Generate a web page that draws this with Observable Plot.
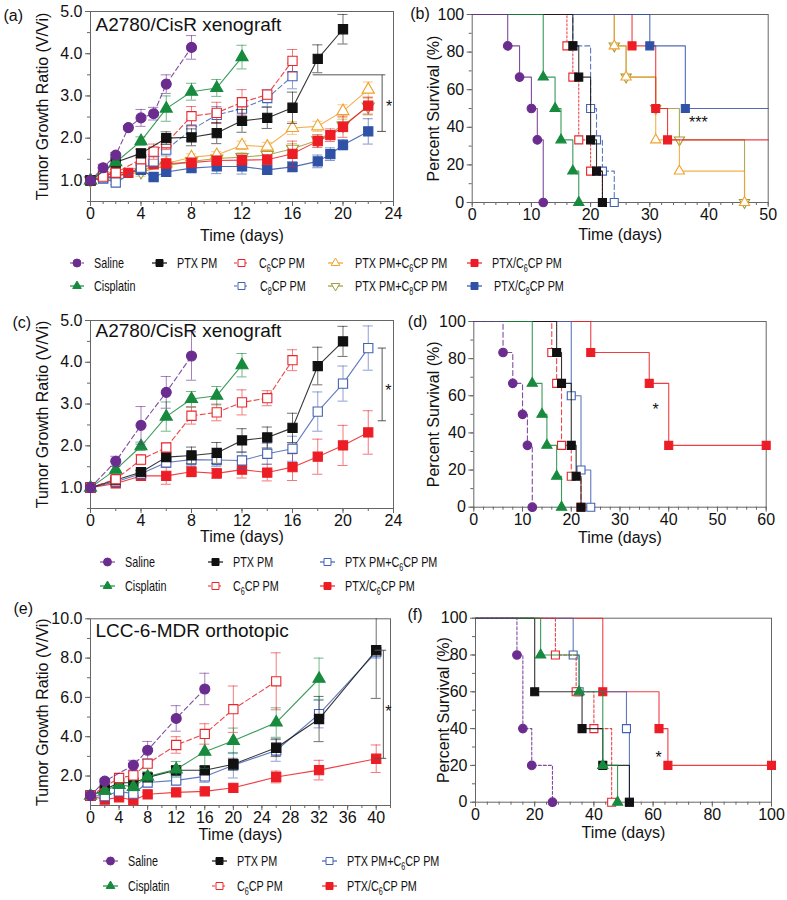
<!DOCTYPE html>
<html><head><meta charset="utf-8">
<script src="https://cdn.jsdelivr.net/npm/d3@7"></script>
<script src="https://cdn.jsdelivr.net/npm/@observablehq/plot@0.6"></script>
<style>
body{margin:0;background:#fff;}
#fig{position:relative;width:787px;height:900px;font-family:"Liberation Sans",Arial,sans-serif;overflow:hidden;}
.panel{position:absolute;}
.lt{position:absolute;font-size:15px;line-height:20px;height:20px;transform:scaleX(0.72);transform-origin:0 50%;white-space:nowrap;color:#111;}
.lt sub{font-size:10px;vertical-align:-4px;line-height:0;}
</style></head>
<body><div id="fig"></div>
<script>
// ================= DATA =================
// Tumor growth, panel (a): [day, V/Vi, error]
const aSaline = [[0,1.00,0],[1,1.30,0.08],[2,1.60,0.06],[3,2.25,0.05],[4,2.48,0.20],[5,2.58,0.15],[6,3.28,0.22],[8,4.15,0.28]];
const aCis    = [[0,1.00,0],[2,1.43,0.08],[4,1.93,0.10],[6,2.70,0.30],[8,3.10,0.20],[10,3.19,0.20],[12,3.92,0.28]];
const aPTX    = [[0,1.00,0],[2,1.43,0.05],[4,1.64,0.10],[6,2.00,0.15],[8,2.02,0.20],[10,2.12,0.25],[12,2.41,0.27],[14,2.48,0.25],[16,2.72,0.37],[18,3.88,0.33],[20,4.58,0.35]];
const aC6     = [[0,1.00,0],[1,1.09,0.05],[2,1.18,0.08],[4,1.50,0.10],[5,1.68,0.18],[6,1.88,0.15],[8,2.52,0.23],[10,2.60,0.25],[12,2.85,0.30],[14,3.03,0.10],[16,3.83,0.27]];
const aC8     = [[0,1.00,0],[1,1.05,0.05],[2,0.95,0.05],[4,1.30,0.10],[5,1.45,0.12],[6,1.73,0.15],[8,2.20,0.25],[10,2.55,0.20],[12,2.70,0.25],[14,2.95,0.20],[16,3.47,0.30]];
const aPC6    = [[0,1.00,0],[2,1.12,0.05],[4,1.25,0.10],[6,1.40,0.10],[8,1.55,0.08],[10,1.60,0.08],[12,1.83,0.10],[14,1.80,0.10],[16,2.24,0.15],[18,2.28,0.12],[20,2.64,0.15],[22,3.15,0.18]];
const aPC8    = [[0,1.00,0],[2,1.10,0.05],[4,1.20,0.10],[6,1.35,0.10],[8,1.45,0.08],[10,1.52,0.08],[12,1.55,0.10],[14,1.60,0.10],[16,1.75,0.12],[18,1.95,0.12],[20,2.30,0.15],[22,2.75,0.20]];
const aPTXC6  = [[0,1.00,0],[1,1.10,0.05],[2,1.20,0.06],[3,1.18,0.05],[4,1.30,0.08],[5,1.38,0.08],[6,1.40,0.10],[8,1.42,0.10],[10,1.47,0.10],[12,1.48,0.12],[14,1.49,0.12],[16,1.63,0.30],[18,1.93,0.15],[19,2.07,0.15],[20,2.27,0.25],[22,2.77,0.20]];
const aPTXC8  = [[0,1.00,0],[1,1.05,0.05],[2,1.10,0.05],[4,1.25,0.10],[5,1.08,0.05],[6,1.20,0.10],[8,1.29,0.10],[10,1.33,0.17],[12,1.33,0.18],[14,1.25,0.10],[16,1.32,0.12],[18,1.45,0.15],[19,1.62,0.15],[20,1.84,0.12],[22,2.16,0.30]];
const aBracket = [[17.6,3.5,23.35,3.5],[23.1,3.5,23.1,2.16],[22.7,2.16,23.4,2.16]];
const aStar = [[23.65,2.73,"*"]];

// Survival, panel (b): [day, % survival] at each step
const bSaline = [[6,83.3],[8,66.7],[10,50],[11,33.3],[12,0]];
const bCis    = [[12,66.7],[14,50],[15,33.3],[17,16.7],[18,0]];
const bPTX    = [[17,83.3],[18,66.7],[20,33.3],[21,16.7],[22,0]];
const bC6     = [[16,83.3],[17,66.7],[18,33.3],[20,16.7],[22,0]];
const bC8     = [[17,83.3],[20,50],[21,33.3],[22,16.7],[24,0]];
const bPC6    = [[24,83.3],[26,66.7],[31,33.3],[35,16.7],[46,0]];
const bPC8    = [[24,83.3],[26,66.7],[31,50],[35,33.3],[46,0]];
const bPTXC6  = [[27,83.3],[31,50],[33,33.3],[50,33.3]];
const bPTXC8  = [[30,83.3],[36,50],[50,50]];
const bStar = [[38.2,42.5,"***"]];

// Tumor growth, panel (c)
const cSaline = [[0,1.00,0],[2,1.63,0.12],[4,2.49,0.45],[6,3.28,0.38],[8,4.15,0.58]];
const cCis    = [[0,1.00,0],[2,1.43,0.08],[4,1.99,0.10],[6,2.70,0.35],[8,3.12,0.18],[10,3.20,0.22],[12,3.93,0.28]];
const cC6     = [[0,1.00,0],[2,1.20,0.05],[4,1.67,0.12],[6,1.96,0.10],[8,2.72,0.20],[10,2.80,0.20],[12,3.04,0.30],[14,3.14,0.18],[16,4.05,0.25]];
const cPTX    = [[0,1.00,0],[2,1.18,0.05],[4,1.37,0.05],[6,1.73,0.10],[8,1.77,0.20],[10,1.83,0.25],[12,2.13,0.28],[14,2.20,0.25],[16,2.43,0.35],[18,3.91,0.45],[20,4.50,0.36]];
const cPC6    = [[0,1.00,0],[2,1.14,0.05],[4,1.33,0.08],[6,1.60,0.10],[8,1.67,0.15],[10,1.66,0.15],[12,1.65,0.20],[14,1.81,0.25],[16,1.93,0.30],[18,2.82,0.47],[20,3.49,0.42],[22,4.34,0.53]];
const cPTXC6  = [[0,1.00,0],[2,1.10,0.05],[4,1.28,0.07],[6,1.28,0.20],[8,1.38,0.12],[10,1.34,0.12],[12,1.43,0.20],[14,1.36,0.20],[16,1.49,0.32],[18,1.74,0.42],[20,2.01,0.48],[22,2.32,0.52]];
const cBracket = [[22.75,4.34,23.4,4.34],[23.1,4.34,23.1,2.6],[22.75,2.6,23.4,2.6]];
const cStar = [[23.6,3.31,"*"]];

// Survival, panel (d)
const dSaline = [[6,83.3],[8,66.7],[10,50],[11,33.3],[12,0]];
const dCis    = [[12,66.7],[14,50],[15,33.3],[17,16.7],[18,0]];
const dC6     = [[16,83.3],[17,66.7],[18,33.3],[20,16.7],[22,0]];
const dPTX    = [[17,83.3],[18,66.7],[20,33.3],[21,16.7],[22,0]];
const dPC6    = [[20,60],[22,20],[24,0]];
const dPTXC6  = [[24,83.3],[36,66.7],[40,33.3],[60,33.3]];
const dStar = [[37.3,52.6,"*"]];

// Tumor growth, panel (e)
const eSaline = [[0,1.00,0],[2,1.74,0.10],[6,2.55,0.25],[8,3.31,0.45],[12,4.93,0.65],[16,6.43,0.80]];
const eC6     = [[0,1.00,0],[4,1.90,0.10],[6,2.03,0.15],[8,2.63,0.20],[12,3.58,0.42],[16,4.14,0.52],[20,5.40,1.18],[26,6.82,1.45]];
const eCis    = [[0,1.00,0],[2,1.25,0.10],[4,1.55,0.15],[6,1.45,0.20],[8,1.97,0.25],[12,2.34,0.40],[16,3.24,0.85],[20,3.79,0.65],[26,4.72,0.75],[32,6.95,1.05]];
const ePTX    = [[0,1.00,0],[2,1.32,0.10],[4,1.66,0.20],[6,1.66,0.20],[8,1.93,0.20],[12,2.29,0.20],[16,2.29,0.20],[20,2.60,0.30],[26,3.44,0.45],[32,4.90,1.15],[40,8.40,2.45]];
const ePC6    = [[0,1.00,0],[2,0.98,0.15],[4,1.22,0.15],[6,1.10,0.20],[8,1.67,0.15],[12,1.78,0.25],[16,1.98,0.30],[20,2.55,0.65],[26,3.30,0.55],[32,5.15,0.70],[40,8.30,0.30]];
const ePTXC6  = [[0,1.00,0],[2,0.80,0.05],[4,0.92,0.08],[6,0.77,0.05],[8,1.07,0.08],[12,1.17,0.08],[16,1.22,0.10],[20,1.40,0.15],[26,1.95,0.30],[32,2.30,0.50],[40,2.88,0.70]];
const eBracket = [[39.8,8.4,41.4,8.4],[41.0,8.4,41.0,2.9],[39.8,2.9,41.4,2.9]];
const eStar = [[41.7,5.28,"*"]];

// Survival, panel (f)
const fSaline = [[14,80],[16,40],[19,20],[26,0]];
const fCis    = [[22,80],[35,60],[43,20],[48,0]];
const fPTX    = [[20,60],[36,40],[43,20],[52,0]];
const fC6     = [[27,80],[34,60],[40,40],[46,0]];
const fPC6    = [[33,80],[35,60],[51,40],[52,0]];
const fPTXC6  = [[43,60],[62,40],[65,20],[100,20]];
const fStar = [[61.9,24.1,"*"]];

// Tick labels
const growthXTicks = [0,4,8,12,16,20,24];
const growthYTicks = [1,2,3,4,5];
const eXTicks = [0,4,8,12,16,20,24,28,32,36,40];
const eYTicks = [2,4,6,8,10];
const bXTicks = [0,10,20,30,40,50];
const dXTicks = [0,10,20,30,40,50,60];
const fXTicks = [0,20,40,60,80,100];
const survYTicks = [0,20,40,60,80,100];

// Labels
const LABELS = {
  saline:"Saline", cis:"Cisplatin", ptx:"PTX PM",
  c6:"C<sub>6</sub>CP PM", c8:"C<sub>8</sub>CP PM",
  pc6:"PTX PM+C<sub>6</sub>CP PM", pc8:"PTX PM+C<sub>8</sub>CP PM",
  ptxc6:"PTX/C<sub>6</sub>CP PM", ptxc8:"PTX/C<sub>8</sub>CP PM",
  pc6b:"PTX PM+C<sub>6</sub>CP PM"
};

// ================= STYLES =================
const STY = {
  saline:{c:"#6b2c8f", sym:"circle"},
  cis:{c:"#178a3e", sym:"triangle"},
  ptx:{c:"#111111", sym:"square"},
  c6:{c:"#e9262b", sym:"square", open:true},
  c8:{c:"#4262b3", sym:"square", open:true},
  pc6:{c:"#f2a12e", sym:"triangle", open:true},
  pc8:{c:"#9e9c38", sym:"triangle", open:true, rot:180},
  ptxc6:{c:"#ec1d25", sym:"square"},
  ptxc8:{c:"#2f52a7", sym:"square"},
  pc6b:{c:"#4262b3", sym:"square", open:true}
};
const FONT = '"Liberation Sans", Arial, sans-serif';
const rr = (sym, big) => sym === "circle" ? (big ? 5 : 4.3) : sym === "triangle" ? (big ? 4.5 : 3.8) : (big ? 5.2 : 4.5);

function dotMark(data, s, big, xf, yf) {
  return Plot.dot(data, {x:xf, y:yf, symbol:s.sym, r:rr(s.sym, big), rotate:s.rot||0,
    fill:s.open ? "white" : s.c, stroke:s.c, strokeWidth:1.1});
}

function growthMarks(list, cap) {
  const marks = [];
  for (const [key, rows, dash] of list) {
    const s = STY[key];
    const pts = rows.map(([t,v,e]) => ({t, v, e}));
    const eb = pts.filter(d => d.e > 0);
    const caps = eb.flatMap(d => [{t:d.t, y:d.v - d.e}, {t:d.t, y:d.v + d.e}]);
    marks.push(Plot.ruleX(eb, {x:"t", y1:d => d.v - d.e, y2:d => d.v + d.e, stroke:s.c, strokeOpacity:0.6, strokeWidth:1, clip:true}));
    marks.push(Plot.ruleY(caps, {y:"y", x1:d => d.t - cap, x2:d => d.t + cap, stroke:s.c, strokeOpacity:0.6, strokeWidth:1, clip:true}));
    marks.push(Plot.line(pts, {x:"t", y:"v", stroke:s.c, strokeOpacity:0.85, strokeWidth:1.1, strokeDasharray:dash || null}));
    marks.push(dotMark(pts, s, true, "t", "v"));
  }
  return marks;
}

function survMarks(list) {
  const marks = [];
  for (const [key, rows, dash, censorEnd] of list) {
    const s = STY[key];
    const pts = [{t:0, p:100}, ...rows.map(([t,p]) => ({t, p}))];
    const dots = rows.map(([t,p]) => ({t, p}));
    if (censorEnd) dots.pop();
    marks.push(Plot.line(pts, {x:"t", y:"p", curve:"step-after", stroke:s.c, strokeOpacity:0.85, strokeWidth:1.1, strokeDasharray:dash || null}));
    marks.push(dotMark(dots, s, false, "t", "p"));
  }
  return marks;
}

function axes(xMajor, xMinor, yMajor, yMinor, yFmt) {
  return [
    Plot.axisX(xMinor, {tickSize:3, tickFormat:() => "", label:null, stroke:"#666"}),
    Plot.axisX(xMajor, {tickSize:5, tickPadding:1, label:null, stroke:"#666", tickFormat:d => String(d)}),
    Plot.axisY(yMinor, {tickSize:3, tickFormat:() => "", label:null, stroke:"#666"}),
    Plot.axisY(yMajor, {tickSize:5, tickPadding:3, label:null, stroke:"#666", tickFormat:yFmt}),
    Plot.frame({stroke:"#666", strokeWidth:1})
  ];
}

function texts(letter, lx, ly, xTitle, xdy, yTitle, ydx, inner, idy) {
  const m = [
    Plot.text([letter], {text:d => d, frameAnchor:"top-left", dx:lx, dy:ly, textAnchor:"start", lineAnchor:"middle", fontSize:16, fontWeight:400}),
    Plot.text([xTitle], {text:d => d, frameAnchor:"bottom", dy:xdy, textAnchor:"middle", lineAnchor:"middle", fontSize:16, fontWeight:400}),
    Plot.text([yTitle], {text:d => d, frameAnchor:"left", dx:ydx, rotate:-90, textAnchor:"middle", lineAnchor:"middle", fontSize:16, fontWeight:400})
  ];
  if (inner) m.push(Plot.text([inner], {text:d => d, frameAnchor:"top-left", dx:5, dy:idy, textAnchor:"start", lineAnchor:"middle", fontSize:19, fontWeight:400}));
  return m;
}

function annot(bracket, star) {
  const m = [];
  if (bracket) m.push(Plot.link(bracket, {x1:d => d[0], y1:d => d[1], x2:d => d[2], y2:d => d[3], stroke:"#555", strokeWidth:1}));
  m.push(Plot.text(star, {x:d => d[0], y:d => d[1], text:d => d[2], fontSize:16, lineAnchor:"middle"}));
  return m;
}

const fig = document.getElementById("fig");
function panel(left, top, o) {
  const el = Plot.plot({
    width:o.w, height:o.h, marginLeft:o.ml, marginRight:o.mr, marginTop:o.mt, marginBottom:o.mb,
    x:{domain:o.xd, label:null}, y:{domain:o.yd, label:null},
    style:{fontFamily:FONT, fontSize:"16px", color:"#111", background:"transparent", overflow:"visible"},
    marks:o.marks
  });
  const d = document.createElement("div");
  d.className = "panel"; d.style.left = left + "px"; d.style.top = top + "px";
  d.appendChild(el); fig.appendChild(d);
}

const fmt1 = d => d.toFixed(1);
const range = (a, b, s) => d3.range(a, b + 1e-9, s);
const GY = "Tumor Growth Ratio (V/Vi)", SY = "Percent Survival (%)", TX = "Time (days)";

// (a)
panel(0, 0, {w:400, h:250, ml:90, mr:7, mt:11, mb:49, xd:[0,24], yd:[0.5,5],
  marks:[
    ...axes(growthXTicks, range(0,24,1), growthYTicks, range(0.5,5,0.5), fmt1),
    ...growthMarks([["pc8",aPC8],["pc6",aPC6],["ptxc8",aPTXC8],["ptxc6",aPTXC6],["c8",aC8,"5,3"],["c6",aC6,"5,3"],["ptx",aPTX],["cis",aCis],["saline",aSaline,"5,3"]], 0.4),
    ...annot(aBracket, aStar),
    ...texts("(a)", -87, 4, TX, 34, GY, -48, "A2780/CisR xenograft", 13)
  ]});

// (b)
panel(395, 0, {w:392, h:250, ml:76.7, mr:19.3, mt:14, mb:48, xd:[0,50], yd:[0,100],
  marks:[
    ...axes(bXTicks, range(0,50,2), survYTicks, range(0,100,10), d => String(d)),
    ...survMarks([["pc8",bPC8],["pc6",bPC6],["ptxc6",bPTXC6,null,true],["ptxc8",bPTXC8,null,true],["c8",bC8,"5,3"],["c6",bC6,"2,2"],["ptx",bPTX],["cis",bCis],["saline",bSaline]]),
    ...annot(null, bStar),
    ...texts("(b)", -62, -1, TX, 32, SY, -38, null, 0)
  ]});

// (c)
panel(0, 300, {w:400, h:250, ml:90, mr:7, mt:20, mb:42, xd:[0,24], yd:[0.5,5],
  marks:[
    ...axes(growthXTicks, range(0,24,2), growthYTicks, range(0.5,5,0.5), fmt1),
    ...growthMarks([["ptxc6",cPTXC6],["pc6b",cPC6],["ptx",cPTX],["c6",cC6,"5,3"],["cis",cCis],["saline",cSaline,"5,3"]], 0.4),
    ...annot(cBracket, cStar),
    ...texts("(c)", -78, 2, TX, 28, GY, -48, "A2780/CisR xenograft", 10)
  ]});

// (d)
panel(395, 300, {w:392, h:250, ml:78.3, mr:21.3, mt:21, mb:43.3, xd:[0,60], yd:[0,100],
  marks:[
    ...axes(dXTicks, range(0,60,2), survYTicks, range(0,100,10), d => String(d)),
    ...survMarks([["ptxc6",dPTXC6],["pc6b",dPC6],["c6",dC6,"5,3"],["ptx",dPTX],["cis",dCis],["saline",dSaline,"5,3"]]),
    ...annot(null, dStar),
    ...texts("(d)", -66, 0, TX, 31, SY, -40, null, 0)
  ]});

// (e)
panel(0, 590, {w:400, h:260, ml:90, mr:10, mt:28.3, mb:45, xd:[0,42], yd:[0.5,10],
  marks:[
    ...axes(eXTicks, range(0,42,2), eYTicks, range(1,10,1), fmt1),
    ...growthMarks([["ptxc6",ePTXC6],["pc6b",ePC6],["ptx",ePTX],["cis",eCis],["c6",eC6,"5,3"],["saline",eSaline,"5,3"]], 0.7),
    ...annot(eBracket, eStar),
    ...texts("(e)", -77, -10, TX, 29.5, GY, -48, "LCC-6-MDR orthotopic", 12)
  ]});

// (f)
panel(395, 590, {w:392, h:260, ml:80, mr:16, mt:27.7, mb:48.3, xd:[0,100], yd:[0,100],
  marks:[
    ...axes(fXTicks, range(0,100,4), survYTicks, range(0,100,10), d => String(d)),
    ...survMarks([["ptxc6",fPTXC6],["pc6b",fPC6],["c6",fC6,"3,2"],["ptx",fPTX],["cis",fCis],["saline",fSaline,"3,2"]]),
    ...annot(null, fStar),
    ...texts("(f)", -68, -3, TX, 31, SY, -32, null, 0)
  ]});

// ================= LEGENDS =================
// [style key, row y, swatch x1, swatch x2, text x, dash]
const legendLayout = [
  ["saline",263,70,84,94,"4,2"],["ptx",263,152,167,177],["c6",263,234,249,259,"3,2"],["pc6",263,328,343,355],["ptxc6",263,467,482,492],
  ["cis",286,70,84,94],["c8",286,234,249,260,"3,2"],["pc8",286,328,343,355],["ptxc8",286,467,482,494],
  ["saline",562,100,115,125,"4,2"],["ptx",562,208,223,233],["pc6b",562,320,335,345],
  ["cis",586,100,115,125],["c6",586,208,223,233,"3,2"],["ptxc6",586,320,335,345],
  ["saline",861,103,118,128,"4,2"],["ptx",861,212,227,237],["pc6b",861,322,337,347],
  ["cis",886,103,118,128],["c6",886,212,227,237,"3,2"],["ptxc6",886,322,337,347]
];
const legSvg = d3.select(fig).append("svg").attr("width",787).attr("height",900)
  .style("position","absolute").style("left","0").style("top","0").style("pointer-events","none");
const symType = {circle:d3.symbolCircle, square:d3.symbolSquare, triangle:d3.symbolTriangle};
const symArea = {circle:50, square:49, triangle:32};
for (const [key, y, x1, x2, tx, dash] of legendLayout) {
  const s = STY[key];
  legSvg.append("line").attr("x1",x1).attr("x2",x2).attr("y1",y).attr("y2",y)
    .attr("stroke",s.c).attr("stroke-width",1.2).attr("stroke-dasharray",dash || null);
  legSvg.append("path").attr("d", d3.symbol(symType[s.sym], symArea[s.sym])())
    .attr("transform",`translate(${(x1+x2)/2},${y}) rotate(${s.rot||0})`)
    .attr("fill", s.open ? "white" : s.c).attr("stroke", s.c).attr("stroke-width",1);
  const t = document.createElement("div");
  t.className = "lt"; t.style.left = tx + "px"; t.style.top = (y - 10) + "px";
  t.innerHTML = LABELS[key];
  fig.appendChild(t);
}
</script></body></html>
